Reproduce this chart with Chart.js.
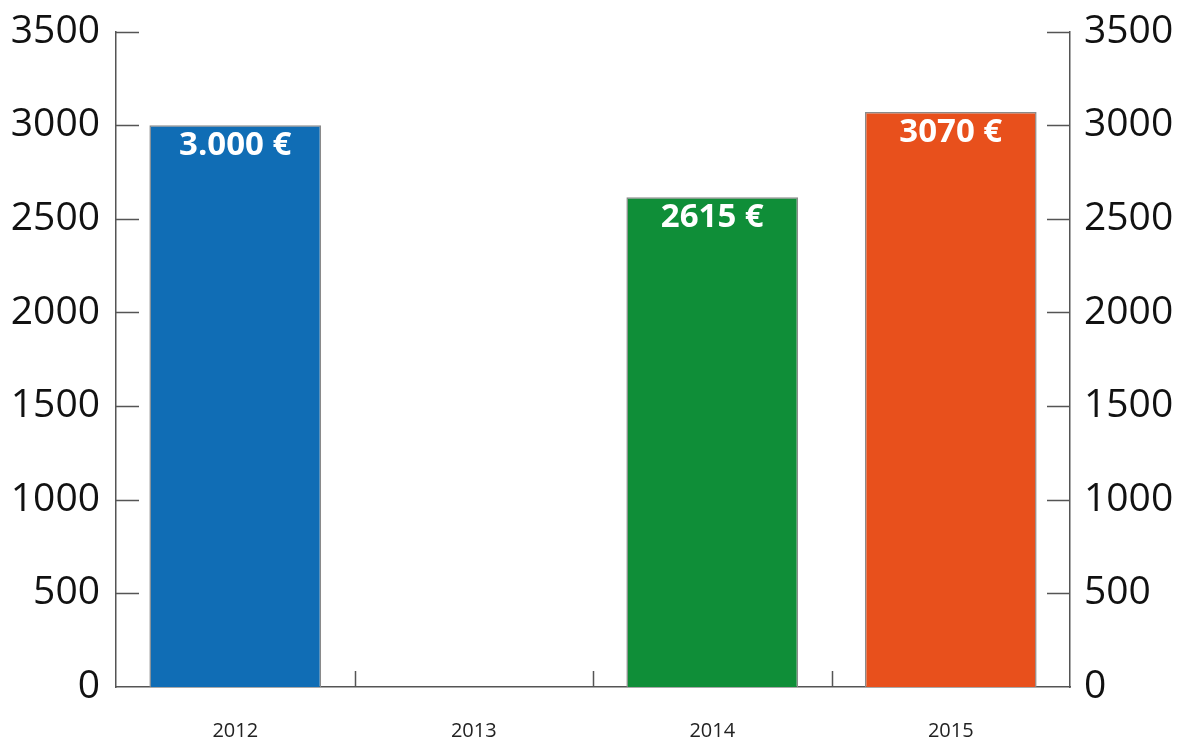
<!DOCTYPE html>
<html lang="de">
<head>
    <meta charset="UTF-8">
    <title>Balkendiagramm 2012-2015</title>
    <script src="https://cdn.jsdelivr.net/npm/chart.js"></script>
    <style>
        body { margin: 0; background: #fff; }
        .wrap { width: 1181px; height: 740px; }
    </style>
</head>
<body>
    <div class="wrap"><canvas id="chart" width="1181" height="740"></canvas></div>

    <script>
        const years = ['2012', '2013', '2014', '2015'];
        const amounts = [3000, null, 2615, 3070];
        const barLabels = ['3.000 €', '', '2615 €', '3070 €'];
        const barColors = ['#106db5', '#ffffff', '#0f8e38', '#e8501c'];
        const yMax = 3500;
        const yStep = 500;

        const axisColor = '#555';

        // kurze Striche nach innen + Werte in den Balken
        const innerTicks = {
            id: 'innerTicks',
            afterDraw(chart) {
                const ctx = chart.ctx;
                const area = chart.chartArea;
                const y = chart.scales.y;
                const x = chart.scales.x;
                ctx.save();
                ctx.strokeStyle = axisColor;
                ctx.lineWidth = 1.5;
                ctx.beginPath();
                y.ticks.forEach(t => {
                    if (t.value === 0) return;
                    const py = Math.round(y.getPixelForValue(t.value)) + 0.5;
                    ctx.moveTo(area.left, py); ctx.lineTo(area.left + 23, py);
                    ctx.moveTo(area.right - 23, py); ctx.lineTo(area.right, py);
                });
                for (let i = 1; i < years.length; i++) {
                    const px = Math.round((x.getPixelForValue(i - 1) + x.getPixelForValue(i)) / 2) + 0.5;
                    ctx.moveTo(px, area.bottom); ctx.lineTo(px, area.bottom - 16);
                }
                ctx.stroke();

                const meta = chart.getDatasetMeta(0);
                ctx.fillStyle = '#fff';
                ctx.font = 'bold 33px "Open Sans"';
                ctx.textAlign = 'center';
                ctx.textBaseline = 'middle';
                meta.data.forEach((bar, i) => {
                    if (amounts[i] == null) return;
                    ctx.fillText(barLabels[i], bar.x, bar.y + 20);
                });
                ctx.restore();
            }
        };

        const plainTick = v => String(v);
        const yFont = { family: 'Open Sans', size: 39, lineHeight: 0.8 };

        new Chart(document.getElementById('chart'), {
            type: 'bar',
            data: {
                labels: years,
                datasets: [{
                    data: amounts,
                    backgroundColor: barColors,
                    borderColor: '#8a8a8a',
                    borderWidth: 1.5,
                    categoryPercentage: 1,
                    barPercentage: 0.72
                }]
            },
            options: {
                responsive: false,
                animation: false,
                layout: { padding: { top: 31, left: 0, right: 0, bottom: 0 } },
                plugins: { legend: { display: false }, tooltip: { enabled: false } },
                scales: {
                    x: {
                        grid: { display: false, tickLength: 0 },
                        border: { color: axisColor, width: 1.5 },
                        ticks: { color: '#222', font: { family: 'Open Sans', size: 20 }, padding: 32 },
                        afterFit(s) { s.height = 53; }
                    },
                    y: {
                        position: 'left',
                        min: 0, max: yMax,
                        grid: { display: false, tickLength: 0 },
                        border: { color: axisColor, width: 1.5 },
                        ticks: { stepSize: yStep, callback: plainTick, color: '#111', font: yFont, padding: 16 },
                        afterFit(s) { s.width = 116; }
                    },
                    y2: {
                        position: 'right',
                        min: 0, max: yMax,
                        grid: { display: false, tickLength: 0 },
                        border: { color: axisColor, width: 1.5 },
                        ticks: { stepSize: yStep, callback: plainTick, color: '#111', font: yFont, padding: 14 },
                        afterFit(s) { s.width = 111; }
                    }
                }
            },
            plugins: [innerTicks]
        });
    </script>
</body>
</html>
